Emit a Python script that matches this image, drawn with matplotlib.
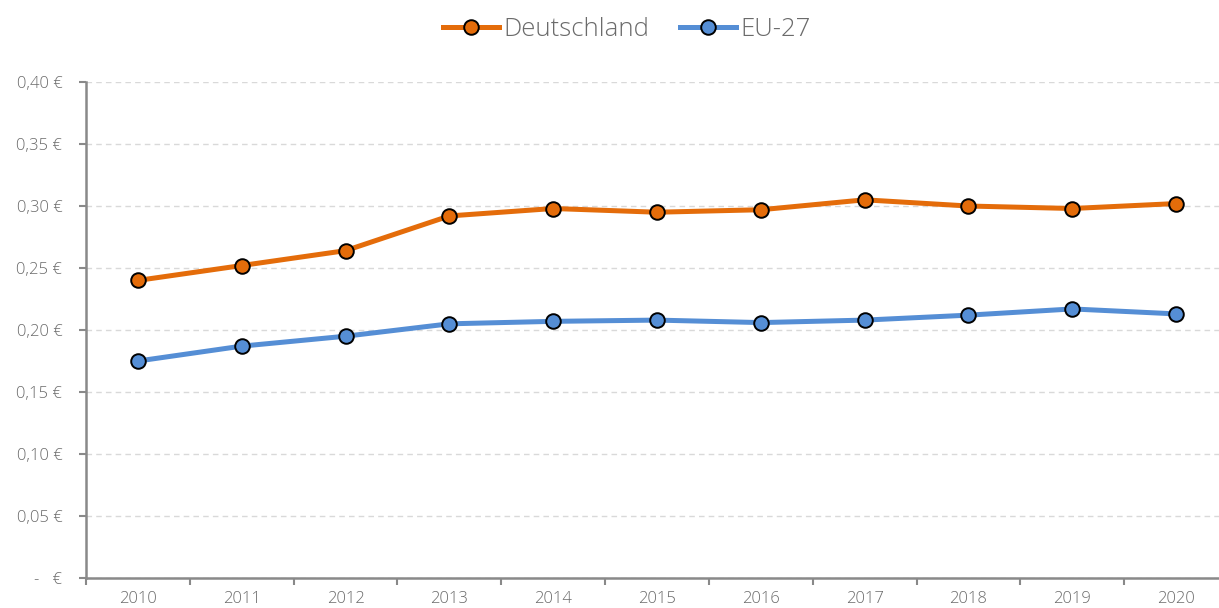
import matplotlib
matplotlib.use("Agg")
import matplotlib.pyplot as plt
import numpy as np

plt.rcParams['font.family'] = ['Open Sans', 'DejaVu Sans']
plt.rcParams['font.weight'] = 'light'

years = ['2010', '2011', '2012', '2013', '2014', '2015', '2016', '2017', '2018', '2019', '2020']
deutschland = [0.240, 0.252, 0.264, 0.292, 0.298, 0.295, 0.297, 0.305, 0.300, 0.298, 0.302]
eu27 = [0.175, 0.187, 0.195, 0.205, 0.207, 0.208, 0.206, 0.208, 0.212, 0.217, 0.213]
y_ticks = [0.0, 0.05, 0.10, 0.15, 0.20, 0.25, 0.30, 0.35, 0.40]

text_col = '#6b6b6b'
axis_col = '#898989'

fig = plt.figure(figsize=(12.19, 6.08), dpi=100)
ax = fig.add_axes([0.0705, 0.0493, 0.9369, 0.8158])

x = np.arange(len(years))
ax.plot(x, deutschland, color='#E46C0A', lw=3.6, marker='o', ms=10.5,
        mfc='#E46C0A', mec='black', mew=1.4, label='Deutschland', zorder=3)
ax.plot(x, eu27, color='#558ED5', lw=3.6, marker='o', ms=10.5,
        mfc='#558ED5', mec='black', mew=1.4, label='EU-27', zorder=3)

ax.set_xlim(-0.5, len(years) - 0.5)
ax.set_ylim(0, 0.40)
ax.set_xticks(x)
ax.set_xticklabels(years)
ax.set_xticks(np.arange(-0.5, len(years), 1.0), minor=True)
ax.tick_params(axis='x', which='major', length=0, pad=9, labelsize=12, labelcolor=text_col)
ax.tick_params(axis='x', which='minor', length=5, width=1.5, color=axis_col, direction='out')

ax.set_yticks(y_ticks)
ax.set_yticklabels(['-   €' if v == 0 else f'{v:.2f} €'.replace('.', ',') for v in y_ticks])
ax.tick_params(axis='y', length=5, width=1.5, color=axis_col, pad=12, labelsize=12, labelcolor=text_col)

ax.grid(axis='y', color='#D9D9D9', linestyle=(0, (4, 3)), lw=1)
for side in ['top', 'right']:
    ax.spines[side].set_visible(False)
for side in ['left', 'bottom']:
    ax.spines[side].set_color(axis_col)
    ax.spines[side].set_linewidth(1.8)

fig.legend(loc='upper center', bbox_to_anchor=(0.514, 1.01), ncol=2, frameon=False,
           fontsize=18.5, labelcolor=text_col, handlelength=2.2, handletextpad=0.15,
           columnspacing=1.2)

fig.savefig('out.png', dpi=100)
